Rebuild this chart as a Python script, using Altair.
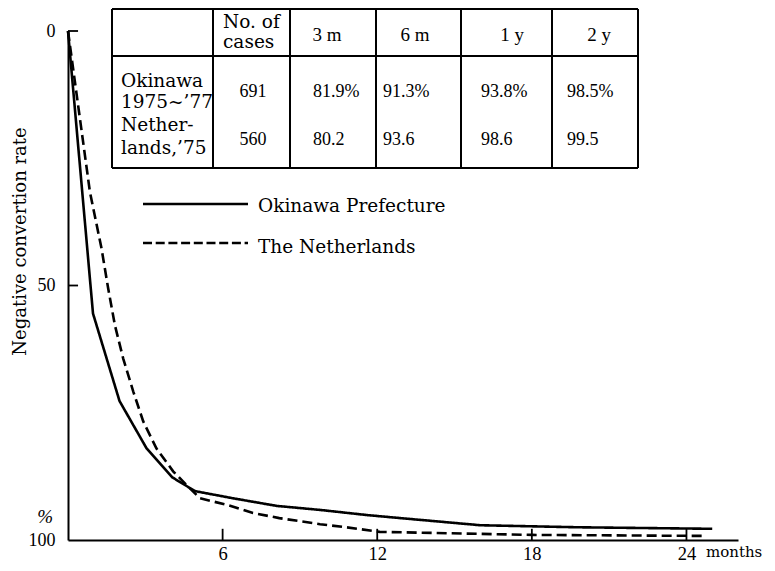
import altair as alt
import pandas as pd

# ---- curve data ----
ok_months = [0, 0.97, 2.0, 3.05, 4.05, 4.93, 6.4, 8.1, 9.8, 11.6, 12.9, 16.0, 19.8, 25.0]
ok_rate = [0, 55.5, 72.7, 82.0, 87.7, 90.4, 91.8, 93.3, 94.1, 95.1, 95.7, 97.1, 97.5, 97.8]
nl_months = [0, 0.85, 1.3, 1.56, 1.82, 2.14, 2.53, 2.92, 3.43, 4.08, 4.6, 5.12, 6.17, 7.18,
             8.2, 9.78, 10.8, 12.1, 18.0, 24.7]
nl_rate = [0, 31.6, 42.7, 50.6, 57.8, 64.3, 70.8, 76.7, 82.0, 86.5, 89.2, 91.8, 93.1, 94.7,
           95.7, 96.9, 97.5, 98.4, 99.0, 99.2]
series_names = ["Okinawa Prefecture", "The Netherlands"]

x_tick_values = [6, 12, 18, 24]
y_tick_values = [0, 50, 100]

# ---- table contents ----
header_cases = ["No. of", "cases"]
header_periods = ["3 m", "6 m", "1 y", "2 y"]
row_labels = [["Okinawa", "1975~\u201977"], ["Nether-", "lands,\u201975"]]
cases = ["691", "560"]
okinawa_pct = ["81.9%", "91.3%", "93.8%", "98.5%"]
netherlands_pct = ["80.2", "93.6", "98.6", "99.5"]

SERIF = "DejaVu Serif"
NUMF = "Liberation Serif"

df = pd.DataFrame({
    "month": ok_months + nl_months,
    "rate": ok_rate + nl_rate,
    "series": [series_names[0]] * len(ok_months) + [series_names[1]] * len(nl_months),
})

xscale = alt.Scale(domain=[0, 26], nice=False, zero=True)
yscale = alt.Scale(domain=[0, 100], reverse=True, nice=False)

lines = alt.Chart(df).mark_line(color="black", strokeWidth=2.6).encode(
    x=alt.X("month:Q", scale=xscale,
            axis=alt.Axis(values=x_tick_values, ticks=False, grid=False, title=None,
                          domainColor="black", domainWidth=2,
                          labelFont=NUMF, labelFontSize=18.5, labelColor="black",
                          labelPadding=4)),
    y=alt.Y("rate:Q", scale=yscale,
            axis=alt.Axis(values=y_tick_values, ticks=False, grid=False,
                          title="Negative convertion rate",
                          titleFont=SERIF, titleFontSize=18, titleFontWeight="normal",
                          titleColor="black", titleAngle=270, titleX=-43, titleY=210,
                          titleBaseline="alphabetic", titleAlign="center",
                          domainColor="black", domainWidth=2,
                          labelFont=NUMF, labelFontSize=18, labelColor="black",
                          labelPadding=13)),
    strokeDash=alt.StrokeDash("series:N",
                              scale=alt.Scale(domain=series_names, range=[[1, 0], [10, 5]]),
                              legend=None),
)

# inward ticks
xt = pd.DataFrame({"month": x_tick_values, "rate": [100] * 4, "rate2": [97.8] * 4})
xticks = alt.Chart(xt).mark_rule(color="black", strokeWidth=1.8).encode(
    x="month:Q", y="rate:Q", y2="rate2:Q")
yt = pd.DataFrame({"month": [0, 0], "month2": [0.39, 0.39], "rate": [0, 50]})
yticks = alt.Chart(yt).mark_rule(color="black", strokeWidth=1.8).encode(
    x="month:Q", x2="month2:Q", y="rate:Q")

layers = [lines, xticks, yticks]


def txt(s, x, y, font=SERIF, size=19, align="left", baseline="alphabetic", style="normal"):
    return alt.Chart(pd.DataFrame({"t": [s]})).mark_text(
        font=font, fontSize=size, align=align, baseline=baseline, color="black",
        fontStyle=style
    ).encode(x=alt.value(x), y=alt.value(y), text="t:N")


def rule(x1, y1, x2, y2, dash=None, width=2.0):
    kw = dict(color="black", strokeWidth=width)
    if dash:
        kw["strokeDash"] = dash
    return alt.Chart(pd.DataFrame({"a": [0]})).mark_rule(**kw).encode(
        x=alt.value(x1), x2=alt.value(x2), y=alt.value(y1), y2=alt.value(y2))


# ---- table grid (pixel layout) ----
col_edges = [44, 145, 222, 308, 393, 484, 570]
row_edges = [-22, 25, 137]
for yy in row_edges:
    layers.append(rule(col_edges[0], yy, col_edges[-1], yy))
for xx in col_edges:
    layers.append(rule(xx, row_edges[0], xx, row_edges[-1]))

# header
layers.append(txt(header_cases[0], 155, -3, size=18.5))
layers.append(txt(header_cases[1], 155, 17, size=18.5))
period_centers = [259, 347, 444, 531]
for lab, cx in zip(header_periods, period_centers):
    layers.append(txt(lab, cx, 10, font=NUMF, size=19, align="center"))

# row labels
label_baselines = [[56, 77], [100, 123]]
for lines_, bls in zip(row_labels, label_baselines):
    for s, b in zip(lines_, bls):
        layers.append(txt(s, 53, b, size=18.5))

row_base = [66, 114]
for c, b in zip(cases, row_base):
    layers.append(txt(c, 185, b, font=NUMF, size=18, align="center"))
value_left = [245, 315, 413, 499]
for vals, b in zip([okinawa_pct, netherlands_pct], row_base):
    for v, lx in zip(vals, value_left):
        layers.append(txt(v, lx, b, font=NUMF, size=18))

# ---- legend ----
layers.append(rule(75, 173, 180, 173, width=2.6))
layers.append(rule(75, 212, 180, 212, dash=[9, 3.7], width=2.6))
layers.append(txt(series_names[0], 190, 181, size=18.5))
layers.append(txt(series_names[1], 190, 222, size=18.5))

# ---- axis extras ----
layers.append(txt("%", -15, 486, font=NUMF, size=19, align="right", baseline="middle",
                  style="italic"))
layers.append(txt("months", 638, 526, size=15))

chart = alt.layer(*layers).properties(
    width=670, height=509,
    autosize=alt.AutoSizeParams(type="none"),
    padding={"left": 60, "top": 23, "right": 29, "bottom": 23},
    background="white",
).configure_view(stroke=None)

chart.save("out.html", embed_options={"renderer": "svg", "actions": False})
